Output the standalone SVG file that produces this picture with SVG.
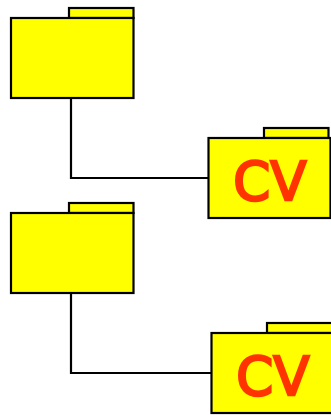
<svg xmlns="http://www.w3.org/2000/svg" width="331" height="415" viewBox="0 0 331 415">
<style>
.f{fill:#ffff00;stroke:#000;stroke-width:2.200}
.c{fill:none;stroke:#000;stroke-width:2.200}
.t{font-family:"DejaVu Sans",sans-serif;font-size:53px;fill:#ff3300;stroke:#ff3300;stroke-width:2.400;text-anchor:middle}
</style>
<g id="connectors">
<path class="c" d="M71 98V178H209"/>
<path class="c" d="M71 293V373H212"/>
</g>
<g id="folder1">
<rect class="f" x="69" y="8" width="64.500" height="10"/>
<rect class="f" x="11" y="18" width="122.500" height="80"/>
</g>
<g id="folder2">
<rect class="f" x="264" y="128" width="64.500" height="10"/>
<rect class="f" x="208.500" y="138" width="122" height="80"/>
<text class="t" x="270" y="199.500">CV</text>
</g>
<g id="folder3">
<rect class="f" x="69" y="203" width="64.500" height="10"/>
<rect class="f" x="11" y="213" width="122.500" height="80"/>
</g>
<g id="folder4">
<rect class="f" x="267" y="323" width="66" height="10"/>
<rect class="f" x="211.500" y="333" width="122" height="80"/>
<text class="t" x="273" y="394.500">CV</text>
</g>
</svg>
